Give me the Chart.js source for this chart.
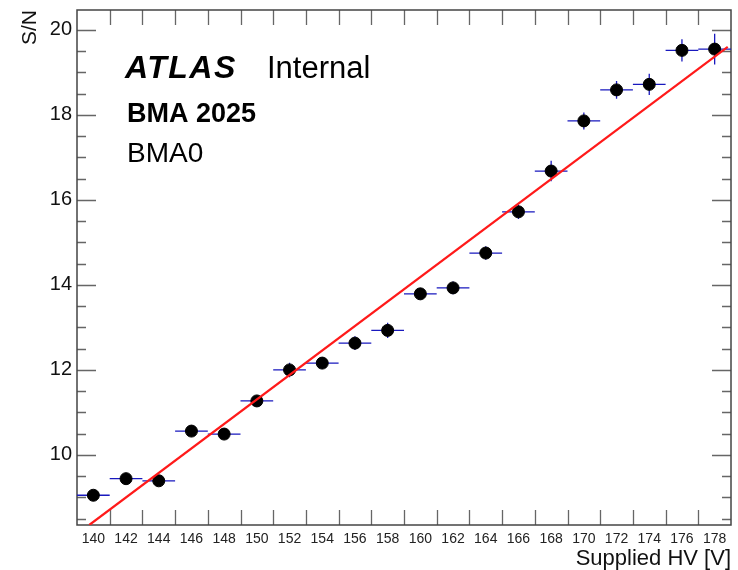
<!DOCTYPE html>
<html>
<head>
<meta charset="utf-8">
<title>S/N vs Supplied HV</title>
<script src="https://cdn.jsdelivr.net/npm/chart.js@4.4.1/dist/chart.umd.min.js"></script>
<style>
  html, body { margin: 0; padding: 0; background: #fff; }
  #wrap { width: 738px; height: 570px; }
</style>
</head>
<body>
<div id="wrap"><canvas id="chart" width="738" height="570"></canvas></div>
<script>
// bin centres of the HV scan (each bin is 2 V wide)
var supplyHV = [140, 142, 144, 146, 148, 150, 152, 154, 156, 158,
                160, 162, 164, 166, 168, 170, 172, 174, 176, 178];
var signalToNoise = [9.05, 9.44, 9.39, 10.56, 10.49, 11.27, 12.00, 12.16, 12.63, 12.93,
                     13.79, 13.93, 14.75, 15.72, 16.68, 17.86, 18.59, 18.72, 19.52, 19.55];
var snError = [0.08, 0.09, 0.09, 0.10, 0.10, 0.12, 0.17, 0.14, 0.16, 0.18,
               0.14, 0.15, 0.16, 0.17, 0.24, 0.20, 0.21, 0.25, 0.26, 0.36];
var hvHalfWidth = [1, 1, 1, 1, 1, 1, 1, 1, 1, 1, 1, 1, 1, 1, 1, 1, 1, 1, 1, 1];

// linear fit as drawn on the plot
var fitHV = [139.75, 178.8];
var fitSN = [8.35, 19.60];

var binEdges = [141, 143, 145, 147, 149, 151, 153, 155, 157, 159, 161,
                163, 165, 167, 169, 171, 173, 175, 177];
var yTickLabels = [10, 12, 14, 16, 18, 20];
var yMinorTicks = [8.5, 9, 9.5, 10.5, 11, 11.5, 12.5, 13, 13.5, 14.5, 15, 15.5,
                   16.5, 17, 17.5, 18.5, 19, 19.5, 20];

var FONT = "'Liberation Sans', Arial, Helvetica, sans-serif";

// ROOT-style frame with inward ticks on all four sides, plus the error bars
var frameAndErrors = {
  id: "frameAndErrors",
  beforeDatasetsDraw: function (chart) {
    var ctx = chart.ctx, a = chart.chartArea;
    var xs = chart.scales.x, ys = chart.scales.y;
    ctx.save();

    ctx.strokeStyle = "#666";
    ctx.lineWidth = 1.3;
    ctx.beginPath();
    binEdges.forEach(function (v) {
      var px = Math.round(xs.getPixelForValue(v)) + 0.5;
      ctx.moveTo(px, a.bottom); ctx.lineTo(px, a.bottom - 15);
      ctx.moveTo(px, a.top); ctx.lineTo(px, a.top + 15);
    });
    yTickLabels.forEach(function (v) {
      var py = Math.round(ys.getPixelForValue(v)) + 0.5;
      ctx.moveTo(a.left, py); ctx.lineTo(a.left + 19, py);
      ctx.moveTo(a.right, py); ctx.lineTo(a.right - 19, py);
    });
    yMinorTicks.forEach(function (v) {
      var py = Math.round(ys.getPixelForValue(v)) + 0.5;
      ctx.moveTo(a.left, py); ctx.lineTo(a.left + 9, py);
      ctx.moveTo(a.right, py); ctx.lineTo(a.right - 9, py);
    });
    ctx.stroke();

    ctx.strokeStyle = "#444";
    ctx.lineWidth = 1.5;
    ctx.strokeRect(a.left, a.top, a.right - a.left, a.bottom - a.top);

    // error bars
    ctx.strokeStyle = "rgb(25, 25, 190)";
    ctx.lineWidth = 1.3;
    ctx.beginPath();
    supplyHV.forEach(function (hv, i) {
      var sn = signalToNoise[i];
      var py = ys.getPixelForValue(sn);
      var px = xs.getPixelForValue(hv);
      ctx.moveTo(xs.getPixelForValue(hv - hvHalfWidth[i]), py);
      ctx.lineTo(xs.getPixelForValue(hv + hvHalfWidth[i]), py);
      ctx.moveTo(px, ys.getPixelForValue(sn + snError[i]));
      ctx.lineTo(px, ys.getPixelForValue(sn - snError[i]));
    });
    ctx.stroke();
    ctx.restore();
  },
  afterDraw: function (chart) {
    var ctx = chart.ctx;
    ctx.save();
    ctx.fillStyle = "#000";
    ctx.textBaseline = "alphabetic";
    ctx.textAlign = "left";
    if ("letterSpacing" in ctx) ctx.letterSpacing = "1.5px";
    ctx.font = "italic bold 32px " + FONT;
    ctx.fillText("ATLAS", 125, 78);
    if ("letterSpacing" in ctx) ctx.letterSpacing = "0px";
    ctx.font = "31px " + FONT;
    ctx.fillText("Internal", 267, 78);
    ctx.font = "bold 27px " + FONT;
    ctx.fillText("BMA 2025", 127, 122);
    ctx.font = "28px " + FONT;
    ctx.fillText("BMA0", 127, 162);
    ctx.restore();
  }
};

var points = supplyHV.map(function (hv, i) { return { x: hv, y: signalToNoise[i] }; });
var fitLine = fitHV.map(function (hv, i) { return { x: hv, y: fitSN[i] }; });

new Chart(document.getElementById("chart").getContext("2d"), {
  type: "scatter",
  data: {
    datasets: [
      {
        type: "line",
        data: fitLine,
        borderColor: "#ff1a1a",
        borderWidth: 2.2,
        pointRadius: 0,
        fill: false,
        order: 0
      },
      {
        data: points,
        backgroundColor: "#000",
        borderColor: "#000",
        pointRadius: 6,
        pointHoverRadius: 6,
        order: 1
      }
    ]
  },
  options: {
    responsive: false,
    animation: false,
    devicePixelRatio: 1,
    layout: { padding: { top: 10, right: 6, left: 0, bottom: 0 } },
    plugins: { legend: { display: false }, tooltip: { enabled: false } },
    scales: {
      x: {
        type: "linear",
        min: 139,
        max: 179,
        grid: { display: false, drawTicks: false },
        border: { display: false },
        afterBuildTicks: function (scale) {
          scale.ticks = supplyHV.map(function (v) { return { value: v }; });
        },
        afterFit: function (scale) {
          scale.height = 45;
          scale.paddingLeft = 0;
          scale.paddingRight = 0;
        },
        ticks: {
          autoSkip: false,
          maxRotation: 0,
          padding: 6,
          color: "#222",
          font: { family: FONT, size: 14 }
        },
        title: {
          display: true,
          text: "Supplied HV [V]",
          align: "end",
          color: "#111",
          padding: { top: 0, bottom: -2 },
          font: { family: FONT, size: 22 }
        }
      },
      y: {
        type: "linear",
        min: 8.35,
        max: 20.47,
        grid: { display: false, drawTicks: false },
        border: { display: false },
        afterBuildTicks: function (scale) {
          scale.ticks = yTickLabels.map(function (v) { return { value: v }; });
        },
        afterFit: function (scale) {
          scale.width = 77;
          scale.paddingTop = 0;
          scale.paddingBottom = 0;
        },
        ticks: {
          padding: 5,
          color: "#111",
          font: { family: FONT, size: 20 }
        },
        title: {
          display: true,
          text: "S/N",
          align: "end",
          color: "#111",
          padding: { top: 18, bottom: 0 },
          font: { family: FONT, size: 21 }
        }
      }
    }
  },
  plugins: [frameAndErrors]
});
</script>
</body>
</html>
